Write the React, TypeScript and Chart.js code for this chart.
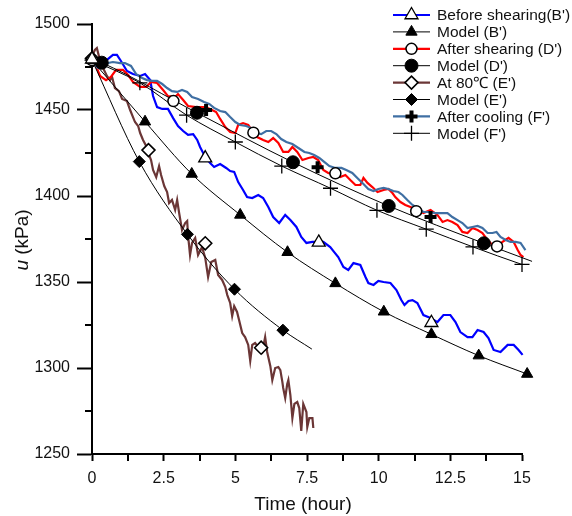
import React, { useEffect, useRef } from 'react';
import { Chart, registerables } from 'chart.js';
import { drawPoint } from 'chart.js/helpers';

Chart.register(...registerables);

// ---------- measured series (Time in hours, u in kPa) ----------
const beforeX = [0,0.28,0.52,0.73,0.87,1.01,1.22,1.43,1.68,1.85,2.03,2.13,2.27,2.45,2.65,2.83,3.00,3.18,3.35,3.53,3.67,3.77,3.95,4.12,4.26,4.47,4.68,4.82,4.96,5.10,5.27,5.41,5.59,5.80,5.97,6.15,6.32,6.53,6.74,6.92,7.13,7.30,7.48,7.69,7.89,8.07,8.31,8.45,8.59,8.77,8.94,9.12,9.36,9.54,9.64,9.82,9.99,10.17,10.41,10.62,10.79,10.90,11.04,11.18,11.35,11.56,11.81,12.05,12.26,12.50,12.68,12.85,13.10,13.27,13.45,13.66,13.83,14.01,14.25,14.50,14.71,14.88,15.02,15.19];
const beforeY = [1479.7,1478.5,1479.1,1482.0,1482.0,1478.5,1472.7,1470.9,1469.8,1470.9,1467.4,1458.1,1451.7,1450.6,1450.6,1445.3,1440.7,1437.8,1435.5,1436.0,1432.6,1428.5,1422.7,1419.2,1416.9,1418.6,1416.3,1414.5,1414.0,1408.1,1403.5,1399.4,1398.8,1400.6,1398.8,1393.6,1387.8,1384.3,1389.0,1386.0,1382.0,1376.2,1372.7,1373.3,1373.3,1373.3,1370.3,1367.4,1364.5,1358.7,1357.0,1361.0,1359.9,1352.9,1349.4,1348.3,1350.6,1350.0,1349.4,1345.3,1339.5,1336.6,1339.0,1339.5,1337.8,1330.8,1329.1,1326.7,1330.8,1330.8,1326.7,1320.9,1318.0,1318.0,1322.1,1320.9,1317.4,1310.5,1309.3,1313.4,1313.4,1310.5,1307.6,1303.5];

const afterShearX = [0,0.17,0.28,0.49,0.66,0.84,1.08,1.26,1.43,1.68,1.89,2.06,2.27,2.48,2.65,2.90,3.00,3.18,3.35,3.63,3.95,4.12,4.33,4.47,4.65,4.82,5.00,5.10,5.27,5.45,5.59,5.76,5.97,6.15,6.32,6.50,6.67,6.85,6.99,7.16,7.34,7.55,7.72,7.89,8.07,8.24,8.49,8.66,8.84,9.01,9.19,9.36,9.47,9.61,9.78,9.96,10.17,10.34,10.48,10.58,10.76,10.93,11.11,11.35,11.56,11.81,12.05,12.23,12.40,12.57,12.75,12.92,13.10,13.27,13.45,13.62,13.80,13.97,14.15,14.32,14.53,14.71,14.85,14.95,15.05];
const afterShearY = [1479.1,1474.4,1469.8,1467.4,1469.2,1473.3,1473.3,1470.3,1466.3,1463.4,1463.4,1466.3,1465.7,1461.6,1458.1,1457.6,1459.3,1455.8,1452.3,1451.7,1451.7,1450.6,1448.8,1444.8,1440.1,1437.2,1436.6,1441.3,1442.4,1441.3,1437.8,1434.3,1432.6,1431.4,1433.7,1430.8,1425.6,1425.6,1428.5,1425.6,1420.9,1422.1,1422.7,1420.9,1415.1,1413.4,1412.2,1411.0,1412.2,1409.3,1406.4,1406.4,1410.5,1407.6,1405.2,1402.3,1403.5,1404.1,1401.7,1399.4,1396.5,1394.8,1393.6,1391.9,1390.1,1391.9,1389.0,1384.9,1386.0,1384.9,1383.1,1379.1,1378.5,1381.4,1380.2,1378.5,1374.4,1371.5,1370.9,1373.3,1375.6,1373.3,1368.6,1365.7,1364.5];

const hotX = [0,0.10,0.17,0.24,0.31,0.42,0.52,0.63,0.70,0.80,0.94,1.05,1.22,1.33,1.43,1.50,1.61,1.68,1.78,1.89,1.96,2.06,2.13,2.24,2.34,2.41,2.52,2.62,2.69,2.79,2.90,2.97,3.04,3.14,3.25,3.32,3.35,3.42,3.49,3.60,3.70,3.84,3.95,4.05,4.16,4.30,4.40,4.54,4.65,4.72,4.82,4.89,4.96,5.06,5.13,5.24,5.34,5.45,5.52,5.59,5.69,5.80,5.94,6.04,6.11,6.22,6.29,6.39,6.50,6.57,6.64,6.67,6.74,6.81,6.85,6.92,6.99,7.06,7.16,7.23,7.30,7.37,7.48,7.51,7.58,7.69,7.72];
const hotY = [1481.4,1484.9,1486.0,1481.4,1476.7,1473.3,1469.8,1467.4,1469.2,1462.8,1461.0,1456.4,1455.2,1450.0,1445.9,1443.0,1440.7,1436.6,1432.6,1429.1,1425.0,1420.9,1415.1,1411.0,1417.4,1412.2,1405.8,1402.3,1395.9,1397.7,1391.9,1397.7,1390.1,1380.2,1384.3,1385.5,1377.3,1365.7,1372.7,1375.6,1365.7,1370.3,1364.0,1352.9,1361.6,1362.8,1354.1,1351.2,1347.1,1342.4,1337.8,1330.2,1336.0,1332.6,1327.9,1320.3,1318.0,1313.4,1304.1,1313.4,1314.5,1312.2,1309.3,1318.0,1309.3,1301.2,1293.0,1300.0,1300.6,1298.8,1291.9,1288.4,1282.6,1290.7,1293.0,1284.3,1270.9,1279.1,1280.2,1276.7,1263.4,1279.1,1274.4,1265.7,1270.9,1270.9,1265.1];

const coolX = [0,0.10,0.21,0.38,0.56,0.73,0.98,1.15,1.36,1.54,1.75,1.92,2.10,2.27,2.45,2.62,2.79,2.97,3.14,3.32,3.49,3.70,3.91,4.09,4.26,4.47,4.65,4.82,5.00,5.17,5.38,5.55,5.73,5.90,6.08,6.25,6.43,6.60,6.78,6.99,7.20,7.41,7.58,7.75,7.93,8.10,8.28,8.49,8.70,8.87,9.08,9.29,9.47,9.64,9.82,9.99,10.17,10.34,10.51,10.69,10.83,11.00,11.18,11.35,11.56,11.77,11.98,12.16,12.40,12.57,12.75,12.92,13.10,13.27,13.45,13.62,13.80,13.97,14.11,14.25,14.43,14.60,14.78,14.95,15.12,15.30,15.40];
const coolY = [1478.5,1476.2,1474.4,1475.0,1477.3,1477.9,1477.3,1477.3,1475.6,1470.9,1468.6,1467.4,1466.9,1466.9,1465.1,1462.8,1461.0,1460.5,1461.6,1460.5,1457.6,1456.4,1454.7,1453.5,1451.2,1449.4,1448.8,1445.9,1443.0,1441.3,1440.7,1439.5,1436.6,1436.0,1437.8,1437.8,1436.0,1433.1,1431.4,1430.2,1427.9,1425.6,1425.0,1423.8,1422.1,1419.8,1417.4,1416.3,1416.3,1415.1,1413.4,1409.9,1407.0,1404.1,1402.9,1404.1,1404.7,1404.1,1402.9,1402.3,1400.6,1397.7,1394.8,1393.0,1390.7,1390.7,1390.1,1390.1,1390.1,1387.8,1386.0,1384.3,1381.4,1382.0,1382.6,1381.4,1378.5,1378.5,1379.1,1376.2,1374.4,1373.3,1373.3,1372.7,1368.6,1364.5,1363.4];

// open markers on the measured series
const beforeMarkX = [0, 3.95, 7.91, 11.84];
const beforeMarkY = [1479.5, 1422.0, 1373.0, 1326.3];
const afterShearMarkX = [0, 2.84, 5.63, 8.49, 11.31, 14.13];
const afterShearMarkY = [1479.0, 1455.2, 1436.8, 1413.2, 1391.2, 1370.7];
const hotMarkX = [0, 1.97, 3.95, 5.90];
const hotMarkY = [1480.0, 1426.7, 1372.5, 1311.8];
const coolMarkX = [0, 3.98, 7.87, 11.81];
const coolMarkY = [1478.5, 1450.0, 1416.7, 1387.8];

// ---------- model curves ----------
const modelBX = [0, 1.85, 3.48, 5.17, 6.82, 8.49, 10.18, 11.84, 13.49, 15.18];
const modelBY = [1479.0, 1443.2, 1412.8, 1389.0, 1367.3, 1349.2, 1332.7, 1319.6, 1307.2, 1296.5];
const modelBMarkX = modelBX;
const modelBMarkY = modelBY;

const modelDX = [0, 0.34, 3.66, 7.01, 10.35, 13.67, 15.35];
const modelDY = [1479.5, 1477.5, 1448.4, 1419.6, 1394.2, 1372.5, 1362.0];
const modelDMarkX = [0.34, 3.66, 7.01, 10.35, 13.67];
const modelDMarkY = [1477.5, 1448.4, 1419.6, 1394.2, 1372.5];

const modelEX = [0, 1.65, 3.33, 4.97, 6.66, 7.67];
const modelEY = [1479.0, 1420.0, 1377.7, 1345.8, 1322.0, 1311.0];
const modelEMarkX = [0, 1.65, 3.33, 4.97, 6.66];
const modelEMarkY = [1479.0, 1420.0, 1377.7, 1345.8, 1322.0];

const modelFX = [0, 1.67, 3.30, 5.00, 6.62, 8.32, 9.94, 11.66, 13.29, 15.00, 15.35];
const modelFY = [1479.0, 1465.8, 1447.0, 1431.4, 1417.4, 1404.5, 1391.7, 1380.7, 1370.4, 1360.2, 1358.3];
const modelFMarkX = [0, 1.67, 3.30, 5.00, 6.62, 8.32, 9.94, 11.66, 13.29, 15.00];
const modelFMarkY = [1479.0, 1465.8, 1447.0, 1431.4, 1417.4, 1404.5, 1391.7, 1380.7, 1370.4, 1360.2];

// ---------- axes ----------
const xMin = 0, xMax = 15, xStep = 2.5;
const yMin = 1250, yMax = 1500, yStep = 50;
const xTitle = 'Time (hour)';
const yTitleItalic = 'u';
const yTitleRest = ' (kPa)';

const legendLabels = [
  'Before shearing(B\')',
  'Model (B\')',
  'After shearing (D\')',
  'Model (D\')',
  'At 80\u2103 (E\')',
  'Model (E\')',
  'After cooling (F\')',
  'Model (F\')',
];

const FONT = '"Liberation Sans", Arial, Helvetica, sans-serif';
const BLUE = '#0000ff';
const RED = '#ff0000';
const BROWN = '#6b3636';
const STEEL = '#3f6fa3';

const pts = (xs: number[], ys: number[]) => xs.map((x, i) => ({ x, y: ys[i] }));

function markerDs(label: string, xs: number[], ys: number[], style: string, radius: number, fill: string, bw: number) {
  return {
    label,
    data: pts(xs, ys),
    showLine: false,
    pointStyle: style,
    pointRadius: radius,
    pointHoverRadius: radius,
    pointBackgroundColor: fill,
    pointBorderColor: '#000',
    pointBorderWidth: bw,
    clip: false as const,
  };
}
function lineDs(label: string, xs: number[], ys: number[], color: string, width: number, smooth: boolean) {
  return {
    label,
    data: pts(xs, ys),
    showLine: true,
    borderColor: color,
    backgroundColor: color,
    borderWidth: width,
    pointRadius: 0,
    pointHoverRadius: 0,
    fill: false,
    tension: 0,
    cubicInterpolationMode: smooth ? ('monotone' as const) : ('default' as const),
    clip: false as const,
  };
}

export default function App() {
  const ref = useRef<HTMLCanvasElement | null>(null);

  useEffect(() => {
    if (!ref.current) return;

    // datasets: earlier index = drawn on top
    const datasets: any[] = [
      markerDs('m0', beforeMarkX, beforeMarkY, 'triangle', 7.5, '#fff', 1.3),     // 0
      markerDs('m1', modelBMarkX, modelBMarkY, 'triangle', 6.5, '#000', 1),        // 1
      markerDs('m2', afterShearMarkX, afterShearMarkY, 'circle', 5.5, '#fff', 1.5), // 2
      markerDs('m3', modelDMarkX, modelDMarkY, 'circle', 6.5, '#000', 1),          // 3
      markerDs('m4', hotMarkX, hotMarkY, 'rectRot', 6.5, '#fff', 1.6),             // 4
      markerDs('m5', modelEMarkX, modelEMarkY, 'rectRot', 6, '#000', 1),           // 5
      markerDs('m6', coolMarkX, coolMarkY, 'cross', 6, '#000', 4),                 // 6
      markerDs('m7', modelFMarkX, modelFMarkY, 'cross', 7.5, '#000', 1.3),         // 7
      lineDs('l1', modelBX, modelBY, '#000', 1, true),                             // 8
      lineDs('l3', modelDX, modelDY, '#000', 1, true),                             // 9
      lineDs('l5', modelEX, modelEY, '#000', 1, true),                             // 10
      lineDs('l7', modelFX, modelFY, '#000', 1, true),                             // 11
      lineDs('l6', coolX, coolY, STEEL, 2.2, false),                               // 12
      lineDs('l2', afterShearX, afterShearY, RED, 2.2, false),                     // 13
      lineDs('l0', beforeX, beforeY, BLUE, 2.2, false),                            // 14
      lineDs('l4', hotX, hotY, BROWN, 2.2, false),                                 // 15
    ];
    const legendPairs = [
      [14, 0], [8, 1], [13, 2], [9, 3], [15, 4], [10, 5], [12, 6], [11, 7],
    ];

    const decorations = {
      id: 'decorations',
      afterDraw(chart: any) {
        const ctx: CanvasRenderingContext2D = chart.ctx;
        const xs = chart.scales.x;
        const ys = chart.scales.y;
        ctx.save();
        // minor ticks
        ctx.strokeStyle = '#000';
        ctx.lineWidth = 2;
        const xt = xs.ticks.map((t: any) => t.value);
        for (let i = 0; i < xt.length - 1; i++) {
          const p = Math.round(xs.getPixelForValue((xt[i] + xt[i + 1]) / 2));
          ctx.beginPath();
          ctx.moveTo(p, chart.chartArea.bottom);
          ctx.lineTo(p, chart.chartArea.bottom + 7);
          ctx.stroke();
        }
        const yt = ys.ticks.map((t: any) => t.value);
        for (let i = 0; i < yt.length - 1; i++) {
          const p = Math.round(ys.getPixelForValue((yt[i] + yt[i + 1]) / 2));
          ctx.beginPath();
          ctx.moveTo(chart.chartArea.left - 7, p);
          ctx.lineTo(chart.chartArea.left, p);
          ctx.stroke();
        }

        // axis titles
        ctx.fillStyle = '#111';
        ctx.textBaseline = 'alphabetic';
        ctx.textAlign = 'center';
        ctx.font = `19px ${FONT}`;
        ctx.fillText(xTitle, 303, 510);

        ctx.save();
        ctx.translate(28, 240);
        ctx.rotate(-Math.PI / 2);
        ctx.font = `italic 19px ${FONT}`;
        const w1 = ctx.measureText(yTitleItalic).width;
        ctx.font = `19px ${FONT}`;
        const w2 = ctx.measureText(yTitleRest).width;
        const start = -(w1 + w2) / 2;
        ctx.textAlign = 'left';
        ctx.font = `italic 19px ${FONT}`;
        ctx.fillText(yTitleItalic, start, 0);
        ctx.font = `19px ${FONT}`;
        ctx.fillText(yTitleRest, start + w1, 0);
        ctx.restore();

        // legend
        const lx0 = 393, lx1 = 430, mx = 411.5, tx = 437;
        legendPairs.forEach(([li, mi], k) => {
          const cy = 15 + k * 16.9;
          const ld = chart.data.datasets[li];
          const md = chart.data.datasets[mi];
          ctx.strokeStyle = ld.borderColor;
          ctx.lineWidth = ld.borderWidth;
          ctx.beginPath();
          ctx.moveTo(lx0, cy);
          ctx.lineTo(lx1, cy);
          ctx.stroke();
          ctx.fillStyle = md.pointBackgroundColor;
          ctx.strokeStyle = md.pointBorderColor;
          ctx.lineWidth = md.pointBorderWidth;
          drawPoint(ctx, { pointStyle: md.pointStyle, radius: md.pointRadius, borderWidth: md.pointBorderWidth, rotation: 0 } as any, mx, cy);
          ctx.fillStyle = '#111';
          ctx.font = `15.5px ${FONT}`;
          ctx.textAlign = 'left';
          ctx.textBaseline = 'middle';
          ctx.fillText(legendLabels[k], tx, cy + 1);
        });
        ctx.restore();
      },
    };

    const chart = new Chart(ref.current, {
      type: 'scatter',
      data: { datasets },
      options: {
        animation: false,
        responsive: false,
        maintainAspectRatio: false,
        events: [],
        layout: { padding: { left: 0, top: 24, right: 50, bottom: 0 } },
        plugins: { legend: { display: false }, tooltip: { enabled: false } },
        scales: {
          x: {
            type: 'linear',
            min: xMin,
            max: xMax,
            afterFit: (s: any) => { s.height = 62; },
            ticks: {
              stepSize: xStep,
              padding: 8,
              color: '#111',
              font: { family: FONT, size: 16 },
              callback: (v: any) => String(v),
              maxRotation: 0,
              autoSkip: false,
              includeBounds: false,
            },
            grid: { drawOnChartArea: false, drawTicks: true, tickLength: 7, tickWidth: 2, tickColor: '#000' },
            border: { display: true, color: '#000', width: 2 },
          },
          y: {
            type: 'linear',
            min: yMin,
            max: yMax,
            afterFit: (s: any) => { s.width = 92; },
            ticks: {
              stepSize: yStep,
              padding: 7,
              color: '#111',
              font: { family: FONT, size: 16 },
              callback: (v: any) => String(v),
              autoSkip: false,
            },
            grid: { drawOnChartArea: false, drawTicks: true, tickLength: 15, tickWidth: 2, tickColor: '#000' },
            border: { display: true, color: '#000', width: 2 },
          },
        },
      },
      plugins: [decorations],
    } as any);

    return () => chart.destroy();
  }, []);

  return (
    <div style={{ position: 'fixed', left: 0, top: 0, width: 572, height: 516, background: '#fff' }}>
      <canvas ref={ref} width={572} height={516} style={{ display: 'block', width: 572, height: 516 }} />
    </div>
  );
}
